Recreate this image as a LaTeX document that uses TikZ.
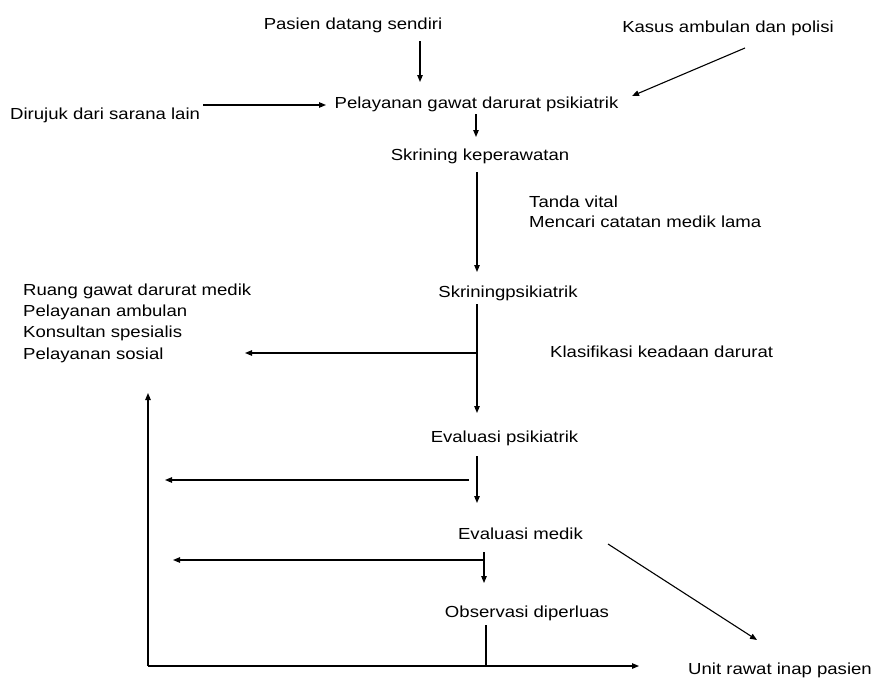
\documentclass[tikz,border=0pt]{standalone}
\usepackage{fontspec}
\setmainfont{Liberation Sans}[FakeStretch=1.16]
\usetikzlibrary{arrows.meta}
\tikzset{
  lbl/.style={inner sep=0pt, font=\fontsize{16}{21.3}\selectfont},
  lblw/.style={lbl, anchor=base west, align=left},
  lblc/.style={lbl, anchor=base},
  flow/.style={line width=1.1pt, -{Triangle[length=7pt,width=5.5pt]}},
  plain/.style={line width=1.1pt}
}
\begin{document}
\begin{tikzpicture}[x=1pt,y=-1pt]
\useasboundingbox (0,0) rectangle (878,678);
% texts
\node[lblc] (pasien) at (353,29) {Pasien datang sendiri};
\node[lblc] (kasus) at (728,32) {Kasus ambulan dan polisi};
\node[lblw] (dirujuk) at (10,119.5) {Dirujuk dari sarana lain};
\node[lblc] (pel) at (476.5,108) {Pelayanan gawat darurat psikiatrik};
\node[lblc] (skrk) at (480,160) {Skrining keperawatan};
\node[lblw, font=\fontsize{16}{20}\selectfont] (tanda) at (529,227) {Tanda vital\\Mencari catatan medik lama};
\node[lblc] (skrp) at (508,297) {Skriningpsikiatrik};
\node[lblw] (klas) at (550,357) {Klasifikasi keadaan darurat};
\node[lblw] (ruang) at (23,359) {Ruang gawat darurat medik\\Pelayanan ambulan\\Konsultan spesialis\\Pelayanan sosial};
\node[lblc] (evp) at (504.5,442) {Evaluasi psikiatrik};
\node[lblc] (evm) at (520.5,539) {Evaluasi medik};
\node[lblc] (obs) at (527,617) {Observasi diperluas};
\node[lblc] (unit) at (780,674) {Unit rawat inap pasien};
% connector end points
\coordinate (a1) at (420,41);   \coordinate (a2) at (420,82);
\coordinate (b1) at (745,48);   \coordinate (b2) at (632,96);
\coordinate (c1) at (203,105);  \coordinate (c2) at (326,105);
\coordinate (d1) at (476,114);  \coordinate (d2) at (476,137);
\coordinate (e1) at (477,172);  \coordinate (e2) at (477,272);
\coordinate (f1) at (477,304);  \coordinate (f2) at (477,413);
\coordinate (fj) at (477,353);  \coordinate (f3) at (245,353);
\coordinate (g1) at (477,456);  \coordinate (g2) at (477,503);
\coordinate (h1) at (469,480);  \coordinate (h2) at (165,480);
\coordinate (i1) at (484,552);  \coordinate (i2) at (484,583);
\coordinate (ij) at (484,560);  \coordinate (i3) at (173,560);
\coordinate (k1) at (608,544);  \coordinate (k2) at (757,640);
\coordinate (o1) at (486,625);  \coordinate (oj) at (486,666);
\coordinate (corner) at (148,666);
\coordinate (up) at (148,393);  \coordinate (right) at (639,666);
% connectors
\draw[flow] (a1) -- (a2);
\draw[flow] (b1) -- (b2);
\draw[flow] (c1) -- (c2);
\draw[flow] (d1) -- (d2);
\draw[flow] (e1) -- (e2);
\draw[flow] (f1) -- (f2);
\draw[flow] (fj) -- (f3);
\draw[flow] (g1) -- (g2);
\draw[flow] (h1) -- (h2);
\draw[flow] (i1) -- (i2);
\draw[flow] (ij) -- (i3);
\draw[flow] (k1) -- (k2);
\draw[plain] (o1) -- (oj);
\draw[flow] (corner) -- (up);
\draw[flow] (corner) -- (right);
\end{tikzpicture}
\end{document}
